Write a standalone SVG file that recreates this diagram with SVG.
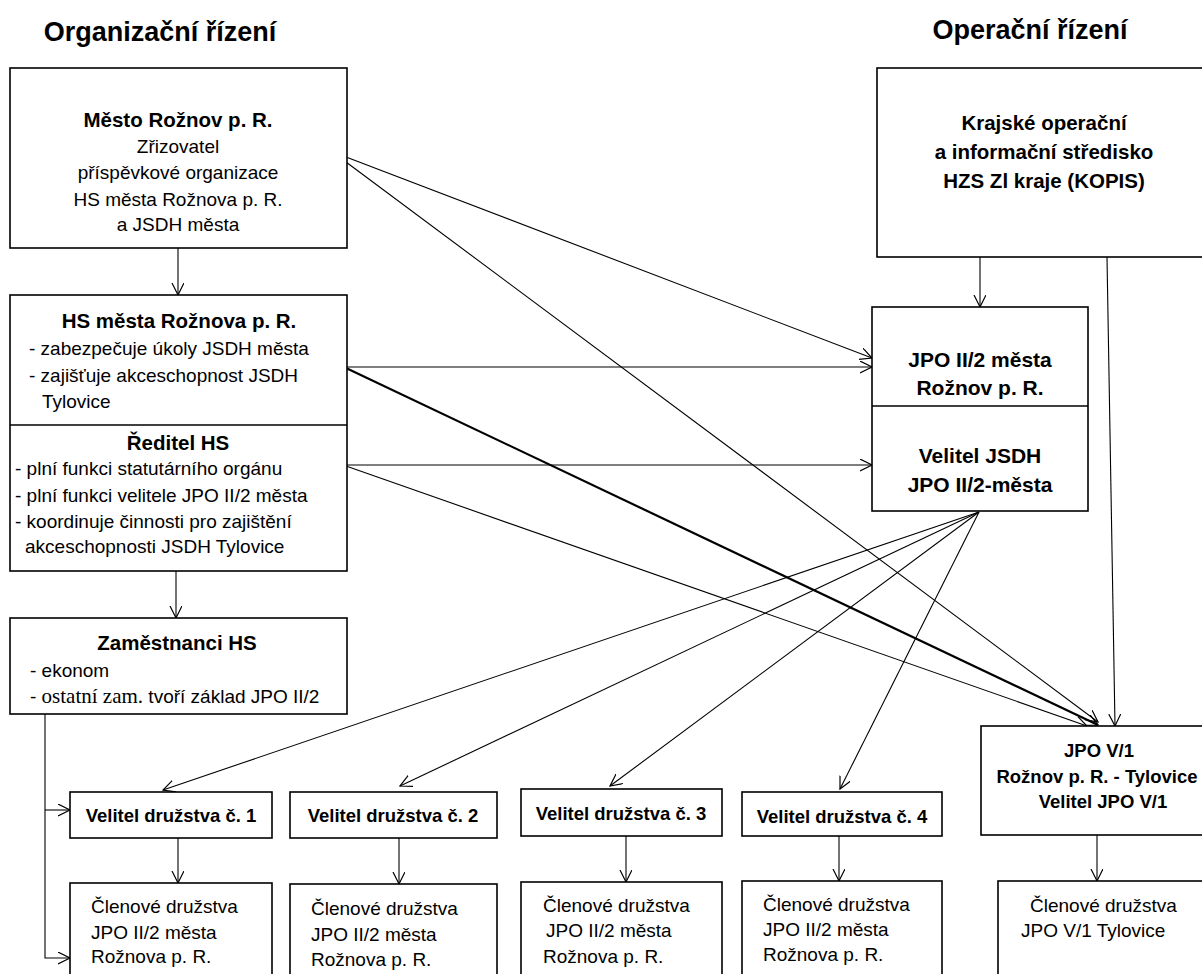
<svg xmlns="http://www.w3.org/2000/svg" width="1202" height="974" viewBox="0 0 1202 974">
<style>
  .box { fill: #fff; stroke: #000; stroke-width: 1.6; }
  .div { stroke: #000; stroke-width: 1.6; }
  .t { font-family: "Liberation Sans", Arial, sans-serif; font-size: 19px; fill: #000; }
  .b { font-family: "Liberation Sans", Arial, sans-serif; font-size: 20.5px; font-weight: bold; fill: #000; }
  .bv { font-family: "Liberation Sans", Arial, sans-serif; font-size: 18.5px; font-weight: bold; fill: #000; }
  .h { font-family: "Liberation Sans", Arial, sans-serif; font-size: 27px; font-weight: bold; fill: #000; }
  .c { text-anchor: middle; }
  .ser { font-family: "Liberation Serif", "Times New Roman", serif; font-size: 21px; }
  .ln { fill: none; stroke: #000; stroke-width: 1.1; }
  .thick { fill: none; stroke: #000; stroke-width: 2.2; }
</style>
<defs>
  <marker id="arr" markerUnits="userSpaceOnUse" markerWidth="14" markerHeight="14" viewBox="0 0 14 14" refX="12" refY="6" orient="auto">
    <path d="M0,0 L12,6 L0,12" fill="none" stroke="#000" stroke-width="1.2"/>
  </marker>
</defs>
<rect width="1202" height="974" fill="#fff"/>

<text class="h c" x="160" y="41">Organizační řízení</text>
<text class="h c" x="1030" y="39">Operační řízení</text>

<g id="connectors">
  <line class="ln" x1="178" y1="248" x2="178" y2="295" marker-end="url(#arr)"/>
  <line class="ln" x1="176" y1="571" x2="176" y2="618" marker-end="url(#arr)"/>
  <polyline class="ln" points="45,714 45,958 70,958" marker-end="url(#arr)"/>
  <line class="ln" x1="45" y1="810" x2="70" y2="810" marker-end="url(#arr)"/>
  <line class="ln" x1="346" y1="157" x2="872" y2="358" marker-end="url(#arr)"/>
  <line class="ln" x1="346" y1="162" x2="1098" y2="722" marker-end="url(#arr)"/>
  <line class="thick" x1="346" y1="368" x2="1098" y2="725" marker-end="url(#arr)"/>
  <line class="ln" x1="346" y1="466" x2="1087" y2="726" marker-end="url(#arr)"/>
  <line class="ln" x1="346" y1="367" x2="872" y2="367" marker-end="url(#arr)"/>
  <line class="ln" x1="346" y1="465" x2="872" y2="465" marker-end="url(#arr)"/>
  <line class="ln" x1="980" y1="257" x2="980" y2="307" marker-end="url(#arr)"/>
  <line class="ln" x1="1107" y1="257" x2="1115" y2="726" marker-end="url(#arr)"/>
  <line class="ln" x1="979" y1="512" x2="163" y2="790" marker-end="url(#arr)"/>
  <line class="ln" x1="979" y1="512" x2="400" y2="786" marker-end="url(#arr)"/>
  <line class="ln" x1="979" y1="512" x2="610" y2="786" marker-end="url(#arr)"/>
  <line class="ln" x1="979" y1="512" x2="840" y2="789" marker-end="url(#arr)"/>
  <line class="ln" x1="178" y1="838" x2="178" y2="883" marker-end="url(#arr)"/>
  <line class="ln" x1="399" y1="838" x2="399" y2="884" marker-end="url(#arr)"/>
  <line class="ln" x1="626" y1="836" x2="626" y2="882" marker-end="url(#arr)"/>
  <line class="ln" x1="839" y1="836" x2="839" y2="881" marker-end="url(#arr)"/>
  <line class="ln" x1="1097" y1="835" x2="1097" y2="881" marker-end="url(#arr)"/>
</g>

<g id="mesto">
  <rect class="box" x="10" y="68" width="337" height="180"/>
  <text class="b c" x="178" y="127">Město Rožnov p. R.</text>
  <text class="t c" x="178" y="153">Zřizovatel</text>
  <text class="t c" x="178" y="179">příspěvkové organizace</text>
  <text class="t c" x="178" y="206">HS města Rožnova p. R.</text>
  <text class="t c" x="178" y="231">a JSDH města</text>
</g>

<g id="hs">
  <rect class="box" x="10" y="295" width="337" height="276"/>
  <line class="div" x1="10" y1="425" x2="347" y2="425"/>
  <text class="b c" x="179" y="328">HS města Rožnova p. R.</text>
  <text class="t" x="29" y="355">- zabezpečuje úkoly JSDH města</text>
  <text class="t" x="29" y="382">- zajišťuje akceschopnost JSDH</text>
  <text class="t" x="42" y="408">Tylovice</text>
  <text class="b c" x="178" y="450">Ředitel HS</text>
  <text class="t" x="15" y="475">- plní funkci statutárního orgánu</text>
  <text class="t" x="15" y="502">- plní funkci velitele JPO II/2 města</text>
  <text class="t" x="15" y="528">- koordinuje činnosti pro zajištění</text>
  <text class="t" x="25" y="553">akceschopnosti JSDH Tylovice</text>
</g>

<g id="zamestnanci">
  <rect class="box" x="10" y="618" width="337" height="96"/>
  <text class="b c" x="177" y="650">Zaměstnanci HS</text>
  <text class="t" x="30" y="677">- ekonom</text>
  <text class="t" x="30" y="703">- <tspan class="ser">ostatní zam.</tspan> tvoří základ JPO II/2</text>
</g>

<g id="kopis">
  <rect class="box" x="877" y="68" width="340" height="189"/>
  <text class="b c" x="1044" y="130">Krajské operační</text>
  <text class="b c" x="1044" y="159">a informační středisko</text>
  <text class="b c" x="1044" y="188">HZS Zl kraje (KOPIS)</text>
</g>

<g id="jpo2">
  <rect class="box" x="872" y="307" width="216" height="204"/>
  <line class="div" x1="872" y1="406" x2="1088" y2="406"/>
  <text class="b c" x="980" y="367" style="font-size:21px">JPO II/2 města</text>
  <text class="b c" x="980" y="395" style="font-size:21px">Rožnov p. R.</text>
  <text class="b c" x="980" y="463" style="font-size:21px">Velitel JSDH</text>
  <text class="b c" x="980" y="492" style="font-size:21px">JPO II/2-města</text>
</g>

<g id="jpo5">
  <rect class="box" x="981" y="726" width="240" height="109"/>
  <text class="bv c" x="1099" y="757">JPO V/1</text>
  <text class="bv c" x="1097" y="783">Rožnov p. R. - Tylovice</text>
  <text class="bv c" x="1103" y="808">Velitel JPO V/1</text>
</g>

<g id="velitel1">
  <rect class="box" x="70" y="792" width="202" height="46"/>
  <text class="bv c" x="171" y="822">Velitel družstva č. 1</text>
</g>
<g id="velitel2">
  <rect class="box" x="290" y="792" width="207" height="46"/>
  <text class="bv c" x="393" y="822">Velitel družstva č. 2</text>
</g>
<g id="velitel3">
  <rect class="box" x="521" y="789" width="201" height="47"/>
  <text class="bv c" x="621" y="820">Velitel družstva č. 3</text>
</g>
<g id="velitel4">
  <rect class="box" x="742" y="792" width="200" height="44"/>
  <text class="bv c" x="842" y="823">Velitel družstva č. 4</text>
</g>

<g id="clenove1">
  <rect class="box" x="70" y="883" width="202" height="110"/>
  <text class="t" x="91" y="913">Členové družstva</text>
  <text class="t" x="91" y="939">JPO II/2 města</text>
  <text class="t" x="91" y="963">Rožnova p. R.</text>
</g>
<g id="clenove2">
  <rect class="box" x="290" y="884" width="207" height="110"/>
  <text class="t" x="311" y="915">Členové družstva</text>
  <text class="t" x="311" y="941">JPO II/2 města</text>
  <text class="t" x="311" y="966">Rožnova p. R.</text>
</g>
<g id="clenove3">
  <rect class="box" x="521" y="882" width="201" height="110"/>
  <text class="t" x="543" y="912">Členové družstva</text>
  <text class="t" x="546" y="937">JPO II/2 města</text>
  <text class="t" x="543" y="963">Rožnova p. R.</text>
</g>
<g id="clenove4">
  <rect class="box" x="742" y="881" width="200" height="110"/>
  <text class="t" x="763" y="911">Členové družstva</text>
  <text class="t" x="763" y="936">JPO II/2 města</text>
  <text class="t" x="763" y="961">Rožnova p. R.</text>
</g>
<g id="clenove5">
  <rect class="box" x="998" y="881" width="220" height="110"/>
  <text class="t" x="1030" y="912">Členové družstva</text>
  <text class="t" x="1021" y="937">JPO V/1 Tylovice</text>
</g>
</svg>
